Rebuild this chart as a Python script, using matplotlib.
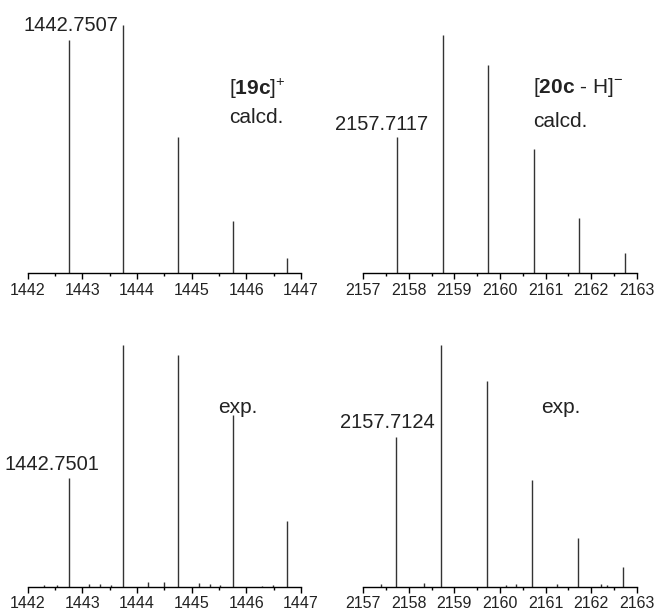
import numpy as np
import matplotlib.pyplot as plt

plt.rcParams['font.family'] = ['Liberation Sans', 'DejaVu Sans']
plt.rcParams['mathtext.fontset'] = 'custom'
plt.rcParams['mathtext.rm'] = 'Liberation Sans'
plt.rcParams['mathtext.bf'] = 'Liberation Sans:bold'

# calcd. isotope pattern [19c]+
mz_19c_calc = [1442.75, 1443.75, 1444.75, 1445.75, 1446.75]
int_19c_calc = [0.94, 1.0, 0.55, 0.21, 0.06]

# calcd. isotope pattern [20c - H]-
mz_20c_calc = [2157.74, 2158.74, 2159.74, 2160.74, 2161.74, 2162.74]
int_20c_calc = [0.55, 0.96, 0.84, 0.50, 0.22, 0.08]

# exp. spectrum [19c]+ (main peaks + small noise)
mz_19c_exp = [1442.30, 1442.53, 1442.75, 1443.13, 1443.32, 1443.52, 1443.75,
              1444.20, 1444.49, 1444.75, 1445.13, 1445.33, 1445.52, 1445.75,
              1446.29, 1446.49, 1446.75]
int_19c_exp = [0.006, 0.007, 0.45, 0.010, 0.010, 0.007, 1.0,
               0.018, 0.018, 0.96, 0.014, 0.011, 0.005, 0.71,
               0.003, 0.007, 0.27]

# exp. spectrum [20c - H]-
mz_20c_exp = [2157.38, 2157.71, 2158.33, 2158.71, 2159.71, 2160.13, 2160.35,
              2160.71, 2161.24, 2161.71, 2162.21, 2162.35, 2162.71]
int_20c_exp = [0.011, 0.62, 0.017, 1.0, 0.85, 0.006, 0.011,
               0.44, 0.011, 0.20, 0.010, 0.006, 0.083]

xlims = [(1442, 1447), (2157, 2163)]

fig = plt.figure(figsize=(6.56, 6.1), dpi=100)
W, H = 656, 610


def make_ax(x0, x1, ybase, ytop):
    return fig.add_axes([x0 / W, (H - ybase) / H, (x1 - x0) / W, (ybase - ytop) / H])


ax_tl = make_ax(27.7, 301.0, 273.0, 25.0)
ax_tr = make_ax(363.3, 636.7, 273.0, 25.0)
ax_bl = make_ax(27.7, 301.0, 586.7, 345.0)
ax_br = make_ax(363.3, 636.7, 586.7, 345.0)

panels = [
    (ax_tl, mz_19c_calc, int_19c_calc, xlims[0]),
    (ax_tr, mz_20c_calc, int_20c_calc, xlims[1]),
    (ax_bl, mz_19c_exp, int_19c_exp, xlims[0]),
    (ax_br, mz_20c_exp, int_20c_exp, xlims[1]),
]

for ax, mz, inten, (lo, hi) in panels:
    ax.vlines(mz, 0, inten, color='#333333', lw=1.0, clip_on=False)
    ax.set_xlim(lo, hi)
    ax.set_ylim(0, 1)
    ax.set_xticks(np.arange(lo, hi + 1))
    ax.set_xticks(np.arange(lo + 0.5, hi, 1.0), minor=True)
    for s in ['left', 'top', 'right']:
        ax.spines[s].set_visible(False)
    ax.spines['bottom'].set_linewidth(1.0)
    ax.set_yticks([])
    ax.tick_params(axis='x', which='major', length=4.5, width=1.0, pad=2.5,
                   labelsize=11.5, labelcolor='#222222')
    ax.tick_params(axis='x', which='minor', length=2.5, width=1.0)
    ax.patch.set_visible(False)

fs = 15
fs_num = 14.5
tc = '#222222'
ax_tl.text(1443.65, 0.976, '1442.7507', ha='right', va='baseline', fontsize=fs_num, color=tc)
ax_tr.text(2158.42, 0.577, '2157.7117', ha='right', va='baseline', fontsize=fs_num, color=tc)
ax_bl.text(1443.31, 0.483, '1442.7501', ha='right', va='baseline', fontsize=fs_num, color=tc)
ax_br.text(2158.57, 0.655, '2157.7124', ha='right', va='baseline', fontsize=fs_num, color=tc)

ax_tl.text(0.738, 0.718, r'[$\mathbf{19c}$]$^{+}$', transform=ax_tl.transAxes,
           va='baseline', fontsize=fs, color=tc)
ax_tl.text(0.738, 0.604, 'calcd.', transform=ax_tl.transAxes,
           va='baseline', fontsize=fs, color=tc)
ax_tr.text(0.62, 0.725, r'[$\mathbf{20c}$ - H]$^{-}$', transform=ax_tr.transAxes,
           va='baseline', fontsize=fs, color=tc)
ax_tr.text(0.62, 0.59, 'calcd.', transform=ax_tr.transAxes,
           va='baseline', fontsize=fs, color=tc)
ax_bl.text(0.696, 0.72, 'exp.', transform=ax_bl.transAxes,
           va='baseline', fontsize=fs, color=tc)
ax_br.text(0.65, 0.72, 'exp.', transform=ax_br.transAxes,
           va='baseline', fontsize=fs, color=tc)

fig.savefig('out.png', dpi=100)
